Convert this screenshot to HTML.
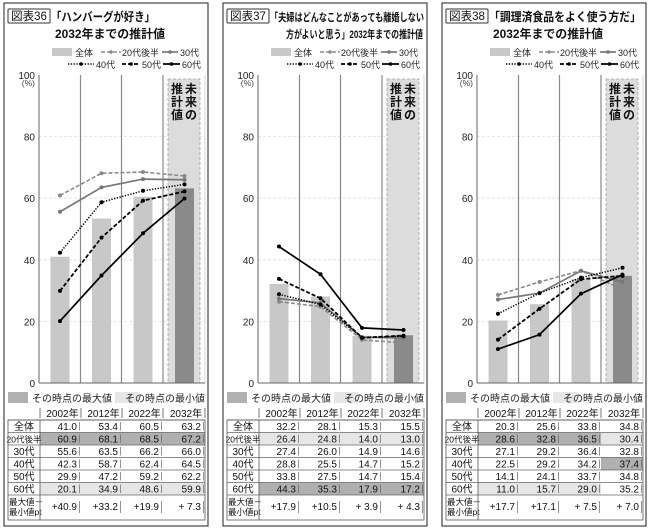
<!DOCTYPE html>
<html><head><meta charset="utf-8">
<style>
html,body{margin:0;padding:0;background:#fff;}
svg{display:block;font-family:"Liberation Sans","Noto Sans CJK JP",sans-serif;}
</style></head>
<body>
<svg id="c" width="650" height="530" viewBox="0 0 650 530" xmlns="http://www.w3.org/2000/svg"></svg>
<script>
const years = ["2002年","2012年","2022年","2032年"];
const seriesNames = ["全体","20代後半","30代","40代","50代","60代"];
const figNums = ["図表36","図表37","図表38"];
const titles1 = ["「ハンバーグが好き」","「夫婦はどんなことがあっても離婚しない","「調理済食品をよく使う方だ」"];
const titles2 = ["2032年までの推計値","方がよいと思う」2032年までの推計値","2032年までの推計値"];
const p1Total = [41.0,53.4,60.5,63.2];
const p1S20 = [60.9,68.1,68.5,67.2];
const p1S30 = [55.6,63.5,66.2,66.0];
const p1S40 = [42.3,58.7,62.4,64.5];
const p1S50 = [29.9,47.2,59.2,62.2];
const p1S60 = [20.1,34.9,48.6,59.9];
const p1Diff = ["+40.9","+33.2","+19.9","+ 7.3"];
const p2Total = [32.2,28.1,15.3,15.5];
const p2S20 = [26.4,24.8,14.0,13.0];
const p2S30 = [27.4,26.0,14.9,14.6];
const p2S40 = [28.8,25.5,14.7,15.2];
const p2S50 = [33.8,27.5,14.7,15.4];
const p2S60 = [44.3,35.3,17.9,17.2];
const p2Diff = ["+17.9","+10.5","+ 3.9","+ 4.3"];
const p3Total = [20.3,25.6,33.8,34.8];
const p3S20 = [28.6,32.8,36.5,30.4];
const p3S30 = [27.1,29.2,36.4,32.8];
const p3S40 = [22.5,29.2,34.2,37.4];
const p3S50 = [14.1,24.1,33.7,34.8];
const p3S60 = [11.0,15.7,29.0,35.2];
const p3Diff = ["+17.7","+17.1","+ 7.5","+ 7.0"];
const yTicks = [0,20,40,60,80,100];

const panels = [
  {total:p1Total, series:[p1S20,p1S30,p1S40,p1S50,p1S60], diff:p1Diff},
  {total:p2Total, series:[p2S20,p2S30,p2S40,p2S50,p2S60], diff:p2Diff},
  {total:p3Total, series:[p3S20,p3S30,p3S40,p3S50,p3S60], diff:p3Diff}
];
const styles = [
  {c:"#8a8a8a",w:1.6,d:"4,2"},
  {c:"#777",w:1.7,d:""},
  {c:"#000",w:1.5,d:"1.3,1.5"},
  {c:"#000",w:1.8,d:"4,2"},
  {c:"#000",w:1.7,d:""}
];
const NS="http://www.w3.org/2000/svg";
const svg=document.getElementById('c');
function el(tag,attrs,parent,text){const e=document.createElementNS(NS,tag);for(const k in attrs)e.setAttribute(k,attrs[k]);if(text!==undefined)e.textContent=text;(parent||svg).appendChild(e);return e;}
const Y=v=>383-3.08*v;

panels.forEach((p,pi)=>{
  const ox=[4,223,442][pi]-4;
  const X=i=>ox+60+41.5*i;
  const g=el('g',{});
  
  
  const fr=el('rect',{x:ox+4,y:3,width:204,height:523,fill:"#fff",stroke:"#444","stroke-width":1.2},g);
  
  const fb=el('rect',{x:ox+8,y:9,width:42,height:14,fill:"none",stroke:"#333","stroke-width":1,rx:1},g);
  
  const fn=el('text',{x:ox+29,y:20,"font-size":11.5,"text-anchor":"middle",fill:"#111"},g,figNums[pi]);
  
  const t1=el('text',{x:ox+51,y:21,"font-size":pi==1?11:12,"font-weight":"bold",fill:"#111","textLength":pi==1?154:(pi==0?104:152),lengthAdjust:"spacingAndGlyphs"},g,titles1[pi]);
  
  const t2=el('text',{x:pi==1?ox+67:ox+55,y:38,"font-size":pi==1?11:12,"font-weight":"bold",fill:"#111","textLength":pi==1?137:110,lengthAdjust:"spacingAndGlyphs"},g,titles2[pi]);
  
  const lg=el('g',{"font-size":9,fill:"#222"},g);
  
  el('rect',{x:ox+52,y:48,width:20,height:8,fill:"#c8c8c8"},lg);
  el('text',{x:ox+75,y:56},lg,"全体");
  const legItems=[[101,121,122,52,"20代後半"],[162,178,180,52,"30代"],[68,94,96,64,"40代"],[122,140,142,64,"50代"],[163,180,182,64,"60代"]];
  legItems.forEach((li,k)=>{
    const s=styles[k];
    el('line',{x1:ox+li[0],x2:ox+li[1],y1:li[3],y2:li[3],stroke:s.c,"stroke-width":s.w,"stroke-dasharray":s.d},lg);
    el('circle',{cx:ox+(li[0]+li[1])/2,cy:li[3],r:1.8,fill:s.c},lg);
    const lt=el('text',{x:ox+li[2],y:li[3]+4},lg,li[4]);
    
  });
  const fu=el('rect',{x:ox+168,y:79,width:32,height:304,fill:"#dcdcdc",stroke:"#a0a0a0","stroke-dasharray":"3,2","stroke-width":0.8},g);
  
  ["未","来","の"].forEach((ch,k)=>el('text',{x:ox+191,y:93+13*k,"font-size":12,"font-weight":"bold","text-anchor":"middle",fill:"#111"},g,ch));
  ["推","計","値"].forEach((ch,k)=>el('text',{x:ox+177,y:93+13*k,"font-size":12,"font-weight":"bold","text-anchor":"middle",fill:"#111"},g,ch));
  yTicks.forEach(t=>{
    if(t>0&&t<100) el('line',{x1:ox+39,x2:ox+205,y1:Y(t),y2:Y(t),stroke:"#ddd","stroke-dasharray":"3,2","stroke-width":0.8},g);
    const tl=el('text',{x:ox+35,y:Y(t)+4,"font-size":10,"text-anchor":"end",fill:"#222"},g,String(t));
    
  });
  el('text',{x:ox+35,y:86,"font-size":8.5,"text-anchor":"end",fill:"#444"},g,"(%)");
  [80.5,121.5,163].forEach(x=>el('line',{x1:ox+x,x2:ox+x,y1:Y(100),y2:383,stroke:"#888","stroke-width":1.2},g));
  el('line',{x1:ox+39,x2:ox+39,y1:Y(100),y2:383,stroke:"#666","stroke-width":1},g);
  el('line',{x1:ox+205,x2:ox+205,y1:Y(100),y2:383,stroke:"#ccc","stroke-width":0.8},g);
  p.total.forEach((v,i)=>{
    const b=el('rect',{x:X(i)-9.5,y:Y(v),width:19,height:383-Y(v),fill:i==3?"#8a8a8a":"#c8c8c8"},g);
    
    
  });
  el('line',{x1:ox+39,x2:ox+205,y1:383,y2:383,stroke:"#666","stroke-width":1},g);
  p.series.forEach((s,k)=>{
    const st=styles[k];
    const pl=el('polyline',{points:s.map((v,i)=>X(i)+","+Y(v)).join(" "),fill:"none",stroke:st.c,"stroke-width":st.w,"stroke-dasharray":st.d},g);
    
    
    s.forEach((v,i)=>{
      const c=el('circle',{cx:X(i),cy:Y(v),r:2,fill:st.c},g);
      
      
    });
  });
  el('rect',{x:ox+8,y:392,width:20,height:11,fill:"#b0b0b0"},g);
  el('text',{x:ox+32,y:402,"font-size":10,fill:"#222"},g,"その時点の最大値");
  el('rect',{x:ox+115,y:392,width:24,height:11,fill:"#e6e6e6"},g);
  el('text',{x:ox+205,y:402,"font-size":10,fill:"#222","text-anchor":"end"},g,"その時点の最小値");
  const tg=el('g',{"font-size":10,fill:"#111"},g);
  
  const colE=[40,81,122,163,205];
  years.forEach((y,i)=>{
    el('text',{x:ox+(colE[i]+colE[i+1])/2+2,y:417,"text-anchor":"middle"},tg,y);
    el('line',{x1:ox+colE[i+1],x2:ox+colE[i+1],y1:408,y2:418,stroke:"#555","stroke-width":0.8},tg);
  });
  el('line',{x1:ox+colE[0],x2:ox+colE[0],y1:408,y2:418,stroke:"#555","stroke-width":0.8},tg);
  const rows=[p.total].concat(p.series);
  const mx=[0,1,2,3].map(i=>Math.max(...p.series.map(s=>s[i])));
  const mn=[0,1,2,3].map(i=>Math.min(...p.series.map(s=>s[i])));
  const rT=420,rH=12.5;
  rows.forEach((r,ri)=>{
    const y0=rT+ri*rH;
    r.forEach((v,i)=>{
      if(ri>0&&(v===mx[i]||v===mn[i])){
        el('rect',{x:ox+colE[i],y:y0,width:colE[i+1]-colE[i],height:rH,fill:v===mx[i]?"#b0b0b0":"#e6e6e6"},tg);
      }
    });
    el('text',{x:ox+24,y:y0+10,"text-anchor":"middle","font-size":ri==1?8.5:10},tg,seriesNames[ri]);
    r.forEach((v,i)=>{
      const tv=el('text',{x:ox+colE[i+1]-4,y:y0+10,"text-anchor":"end"},tg,v.toFixed(1));
      
      el('line',{x1:ox+colE[i+1]-1.5,x2:ox+colE[i+1]-1.5,y1:y0+2,y2:y0+rH-2,stroke:"#666","stroke-width":0.7},tg);
    });
    el('line',{x1:ox+8,x2:ox+205,y1:y0,y2:y0,stroke:"#666","stroke-width":0.8},tg);
  });
  const yl=rT+6*rH;
  el('line',{x1:ox+8,x2:ox+205,y1:yl,y2:yl,stroke:"#666","stroke-width":0.8},tg);
  el('text',{x:ox+9,y:yl+10,"font-size":8.5},tg,"最大値－");
  el('text',{x:ox+9,y:yl+20,"font-size":8.5},tg,"最小値pt");
  p.diff.forEach((d,i)=>{
    el('text',{x:ox+colE[i+1]-4,y:yl+15,"text-anchor":"end"},tg,d);
    el('line',{x1:ox+colE[i+1]-1.5,x2:ox+colE[i+1]-1.5,y1:yl+6,y2:yl+18,stroke:"#666","stroke-width":0.7},tg);
  });
  el('rect',{x:ox+8,y:rT,width:197,height:yl+25-rT,fill:"none",stroke:"#555","stroke-width":0.8},tg);
  el('line',{x1:ox+40,x2:ox+40,y1:rT,y2:yl+25,stroke:"#555","stroke-width":0.8},tg);
});
</script>
</body></html>
